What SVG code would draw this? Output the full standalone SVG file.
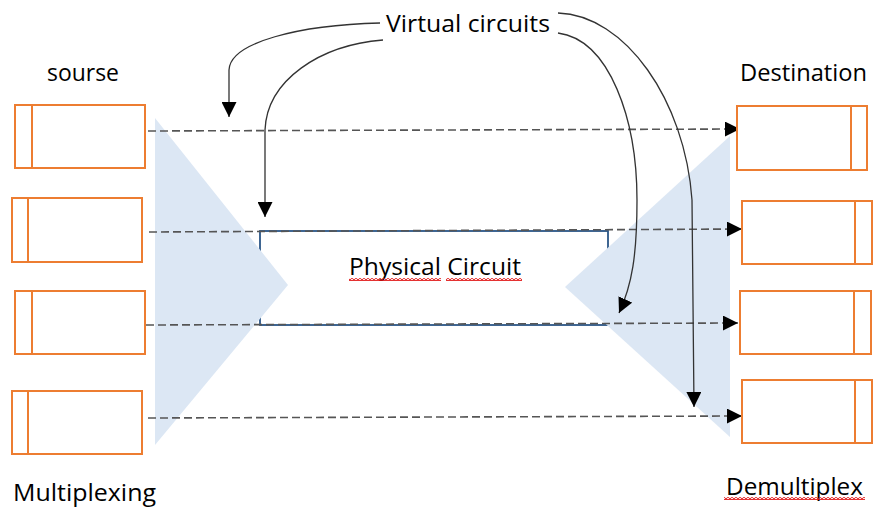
<svg xmlns="http://www.w3.org/2000/svg" width="873" height="508" viewBox="0 0 873 508">
<defs>
<style>
.box{fill:#fff;stroke:#ED7D31;stroke-width:2}
.div{stroke:#ED7D31;stroke-width:2;fill:none}
.tri{fill:#DCE7F4}
.dash{stroke:#555;stroke-width:1.6;stroke-dasharray:8 4;fill:none}
.curve{stroke:#333;stroke-width:1.3;fill:none}
.lbl{font-family:"Open Sans","Liberation Sans",sans-serif;font-size:23px;fill:#000}
.sq{fill:url(#wave)}
</style>
<marker id="ah" markerUnits="userSpaceOnUse" markerWidth="15" markerHeight="15" refX="15" refY="7.5" orient="auto" viewBox="0 0 15 15">
<path d="M0,0 L15,7.5 L0,15 z" fill="#000"/>
</marker>
<pattern id="wave" patternUnits="userSpaceOnUse" width="4" height="3">
<path d="M0,2.5 L2,0.5 L4,2.5" stroke="#E01010" stroke-width="1.3" fill="none"/>
</pattern>
</defs>

<g id="physical-circuit">
<rect x="260" y="231" width="348" height="94" fill="#fff" stroke="#2B5687" stroke-width="1.8"/>
</g>

<g id="mux-triangles">
<polygon class="tri" points="155,118 288,285 155,445"/>
<polygon class="tri" points="730,136 565,287 730,437"/>
</g>

<g id="physical-label">
<text class="lbl" x="349" y="275" textLength="172" lengthAdjust="spacingAndGlyphs">Physical Circuit</text>
<rect class="sq" x="349" y="278" width="92" height="3"/>
<rect class="sq" x="446" y="278" width="76" height="3"/>
</g>

<g id="connectors">
<path class="dash" d="M148,131 L740,129" marker-end="url(#ah)"/>
<path class="dash" d="M149,232 L742,229" marker-end="url(#ah)"/>
<path class="dash" d="M146,325 L738,323" marker-end="url(#ah)"/>
<path class="dash" d="M148,418 L742,416" marker-end="url(#ah)"/>
<path class="curve" d="M380,23 C300,25 230,42 229,70 L229,117" marker-end="url(#ah)"/>
<path class="curve" d="M383,40 C320,45 267,80 265,130 L265,217" marker-end="url(#ah)"/>
<path class="curve" d="M558,33 C610,40 637,120 637,200 C637,255 632,285 619,313" marker-end="url(#ah)"/>
<path class="curve" d="M558,13 C625,15 685,100 692,200 L694,407" marker-end="url(#ah)"/>
</g>

<g id="src1"><rect class="box" x="15" y="105" width="130" height="63"/><line class="div" x1="32" y1="105" x2="32" y2="168"/></g>
<g id="src2"><rect class="box" x="12" y="198" width="130" height="64"/><line class="div" x1="28" y1="198" x2="28" y2="262"/></g>
<g id="src3"><rect class="box" x="15" y="291" width="130" height="63"/><line class="div" x1="32" y1="291" x2="32" y2="354"/></g>
<g id="src4"><rect class="box" x="12" y="391" width="130" height="63"/><line class="div" x1="28" y1="391" x2="28" y2="454"/></g>

<g id="dst1"><rect class="box" x="737" y="106" width="130" height="64"/><line class="div" x1="851" y1="106" x2="851" y2="170"/></g>
<g id="dst2"><rect class="box" x="742" y="201" width="130" height="63"/><line class="div" x1="855" y1="201" x2="855" y2="264"/></g>
<g id="dst3"><rect class="box" x="740" y="291" width="131" height="63"/><line class="div" x1="854" y1="291" x2="854" y2="354"/></g>
<g id="dst4"><rect class="box" x="742" y="380" width="130" height="63"/><line class="div" x1="855" y1="380" x2="855" y2="443"/></g>

<g id="labels">
<text class="lbl" x="386" y="32" textLength="164" lengthAdjust="spacingAndGlyphs">Virtual circuits</text>
<text class="lbl" x="47" y="81" textLength="72" lengthAdjust="spacingAndGlyphs">sourse</text>
<text class="lbl" x="740" y="81" textLength="127" lengthAdjust="spacingAndGlyphs">Destination</text>
<text class="lbl" x="13" y="501" textLength="143" lengthAdjust="spacingAndGlyphs">Multiplexing</text>
<text class="lbl" x="726" y="495" textLength="137" lengthAdjust="spacingAndGlyphs">Demultiplex</text>
<rect class="sq" x="724" y="497" width="141" height="3"/>
</g>
</svg>
